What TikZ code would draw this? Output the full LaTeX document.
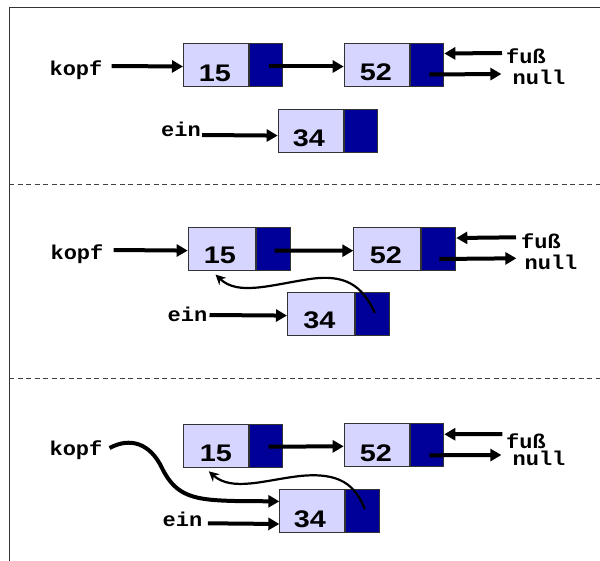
\documentclass[tikz,border=0pt]{standalone}
\usepackage{fontspec}
\newfontfamily\labelfont[FakeStretch=1.1]{Liberation Mono}
\newfontfamily\numfont[FakeStretch=1.2]{Liberation Sans}
\usetikzlibrary{arrows.meta}

\definecolor{cellfill}{HTML}{D5D5FF}
\definecolor{ptrfill}{HTML}{000099}
\definecolor{celledge}{HTML}{333333}

\tikzset{
  datacell/.style={draw=celledge, fill=cellfill, line width=1pt, inner sep=0pt,
                   anchor=north west, minimum height=43pt},
  ptrcell/.style={draw=celledge, fill=ptrfill, line width=1pt, inner sep=0pt,
                  anchor=north west, minimum height=43pt},
  num/.style={font=\numfont\bfseries\fontsize{24}{24}\selectfont, anchor=base, inner sep=0pt},
  lbl/.style={font=\labelfont\bfseries\fontsize{20}{20}\selectfont, anchor=base, inner sep=0pt},
  link/.style={line width=4pt, -{Triangle[length=11pt,width=12pt]}},
  backlink/.style={line width=2.2pt, -{Stealth[length=10pt,width=10pt]}},
  frameline/.style={line width=1pt, draw=black!80},
  sepline/.style={line width=0.8pt, draw=black!75, dash pattern=on 5pt off 3.5pt},
}

\begin{document}
\begin{tikzpicture}[x=1pt, y=-1pt]
\useasboundingbox (0,0) rectangle (600,561);

% outer frame and panel separators
\draw[frameline] (9,561) -- (9,8) -- (600,8);
\draw[sepline] (9,184) -- (600,184);
\draw[sepline] (9,378) -- (600,378);

% ---------- panel 1: list 15 -> 52, new element 34 ----------
\node[datacell, minimum width=65pt]   (a15)  at (183,43) {};
\node[ptrcell,  minimum width=33pt]   (a15p) at (a15.north east) {};
\node[datacell, minimum width=65.3pt] (a52)  at (343.7,43) {};
\node[ptrcell,  minimum width=33.3pt] (a52p) at (a52.north east) {};
\node[datacell, minimum width=65.6pt] (a34)  at (277.7,109.3) {};
\node[ptrcell,  minimum width=32.7pt] (a34p) at (a34.north east) {};
\node[num] (a15n) at (215,81.3) {15};
\node[num] (a52n) at (376,80.5) {52};
\node[num] (a34n) at (309,147) {34};
\node[lbl] (akopf) at (76,75.5) {kopf};
\node[lbl] (aein)  at (181,136.5) {ein};
\node[lbl] (afuss) at (526,64) {fuß};
\node[lbl] (anull) at (539,85) {null};

\draw[link] ([xshift=9pt,yshift=9.5pt]akopf.base east) -- ([yshift=-1.5pt]a15.west);
\draw[link] ([xshift=2.5pt,yshift=-1.5pt]a15p.center) -- ([yshift=-1.5pt]a52.west);
\draw[link] ([xshift=1pt,yshift=1.5pt]aein.base east) -- ([yshift=-4.3pt]a34.west);
\draw[link] ([xshift=-4pt,yshift=11pt]afuss.base west) -- ([yshift=11.5pt]a52p.east);
\draw[link] ([xshift=2.3pt,yshift=-9.5pt]a52p.center) -- ([xshift=-11pt,yshift=11pt]anull.base west);

% ---------- panel 2: 34 points to 15 ----------
\node[datacell, minimum width=67.3pt] (b15)  at (187.7,227.3) {};
\node[ptrcell,  minimum width=34pt]   (b15p) at (b15.north east) {};
\node[datacell, minimum width=66.7pt] (b52)  at (353.3,226.7) {};
\node[ptrcell,  minimum width=34.3pt] (b52p) at (b52.north east) {};
\node[datacell, minimum width=67pt]   (b34)  at (287,292.3) {};
\node[ptrcell,  minimum width=33.7pt] (b34p) at (b34.north east) {};
\node[num] (b15n) at (220,263.5) {15};
\node[num] (b52n) at (386,263.5) {52};
\node[num] (b34n) at (319.5,329) {34};
\node[lbl] (bkopf) at (77,259.2) {kopf};
\node[lbl] (bein)  at (187.5,322) {ein};
\node[lbl] (bfuss) at (541,248.5) {fuß};
\node[lbl] (bnull) at (551,269.2) {null};

\draw[link] ([xshift=10pt,yshift=9.2pt]bkopf.base east) -- ([yshift=-1.3pt]b15.west);
\draw[link] ([xshift=1pt,yshift=-1.3pt]b15p.center) -- ([yshift=-2pt]b52.west);
\draw[link] ([xshift=2pt,yshift=7pt]bein.base east) -- ([yshift=-1.3pt]b34.west);
\draw[link] ([xshift=-5pt,yshift=11.2pt]bfuss.base west) -- ([yshift=10.7pt]b52p.east);
\draw[link] ([xshift=0.8pt,yshift=-10.3pt]b52p.center) -- ([xshift=-8pt,yshift=10.9pt]bnull.base west);
\draw[backlink] ([xshift=2.5pt,yshift=1.4pt]b34p.center)
  .. controls (362,285) and (345,274) .. (310,279)
  .. controls (270,285) and (238,296) .. ([xshift=-6.3pt,yshift=-3.3pt]b15.south);

% ---------- panel 3: kopf moved to 34 ----------
\node[datacell, minimum width=65pt]   (c15)  at (183,424) {};
\node[ptrcell,  minimum width=33pt]   (c15p) at (c15.north east) {};
\node[datacell, minimum width=65.3pt] (c52)  at (343.7,423.3) {};
\node[ptrcell,  minimum width=33.3pt] (c52p) at (c52.north east) {};
\node[datacell, minimum width=64.7pt] (c34)  at (279.3,489) {};
\node[ptrcell,  minimum width=33.7pt] (c34p) at (c34.north east) {};
\node[num] (c15n) at (216,461) {15};
\node[num] (c52n) at (376,461) {52};
\node[num] (c34n) at (310,527) {34};
\node[lbl] (ckopf) at (76,455.5) {kopf};
\node[lbl] (cein)  at (182.5,526.5) {ein};
\node[lbl] (cfuss) at (526,448) {fuß};
\node[lbl] (cnull) at (539,465) {null};

\draw[link] ([xshift=7pt,yshift=7.5pt]ckopf.base east)
  .. controls (130,437) and (150,443) .. (162,468)
  .. controls (176,497) and (195,500) .. (235,501)
  -- ([yshift=9.6pt]c34.west);
\draw[link] ([xshift=5.3pt,yshift=3.2pt]cein.base east) -- ([yshift=-13pt]c34.west);
\draw[link] ([xshift=2.5pt,yshift=-0.7pt]c15p.center) -- ([yshift=-1pt]c52.west);
\draw[link] ([xshift=-3.7pt,yshift=14pt]cfuss.base west) -- ([yshift=11pt]c52p.east);
\draw[link] ([xshift=2.3pt,yshift=-10pt]c52p.center) -- ([xshift=-11pt,yshift=10pt]cnull.base west);
\draw[backlink] ([xshift=2.5pt,yshift=2pt]c34p.center)
  .. controls (355,485) and (340,472) .. (300,476)
  .. controls (265,480) and (232,492) .. ([xshift=-7.2pt,yshift=-3.3pt]c15.south);

\end{tikzpicture}
\end{document}
